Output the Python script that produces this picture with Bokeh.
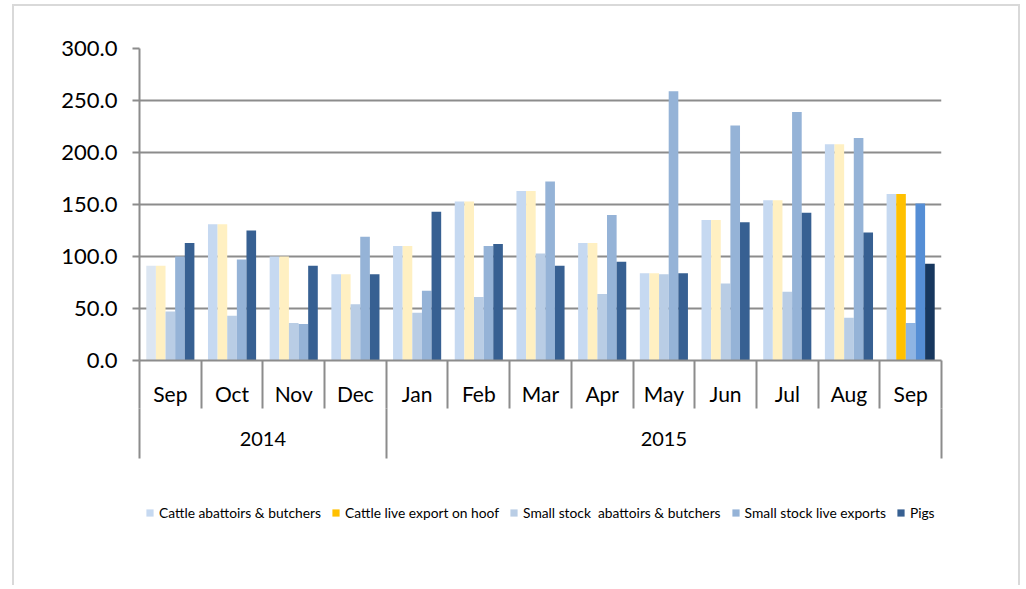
from bokeh.plotting import figure
from bokeh.layouts import column
from bokeh.models import (Range1d, LinearAxis, FixedTicker, NumeralTickFormatter,
                          ColumnDataSource, Legend, LegendItem)
from bokeh.transform import dodge
from bokeh.embed import file_html
from bokeh.resources import INLINE

# ---------------- data ----------------
years = ["2014", "2014", "2014", "2014", "2015", "2015", "2015", "2015", "2015",
         "2015", "2015", "2015", "2015"]
months = ["Sep", "Oct", "Nov", "Dec", "Jan", "Feb", "Mar", "Apr", "May", "Jun",
          "Jul", "Aug", "Sep"]

series_names = ["Cattle abattoirs & butchers", "Cattle live export on hoof",
                "Small stock  abattoirs & butchers", "Small stock live exports", "Pigs"]

cattle_abattoirs = [91, 131, 100, 83, 110, 153, 163, 113, 84, 135, 154, 208, 160]
cattle_live_export = [91, 131, 100, 83, 110, 153, 163, 113, 84, 135, 154, 208, 160]
small_stock_abattoirs = [47, 43, 36, 54, 46, 61, 103, 64, 83, 74, 66, 41, 36]
small_stock_live = [100, 97, 35, 119, 67, 110, 172, 140, 259, 226, 239, 214, 151]
pigs = [113, 125, 91, 83, 143, 112, 91, 95, 84, 133, 142, 123, 93]

y_ticks = [0, 50, 100, 150, 200, 250, 300]

# ---------------- styles ----------------
FONT = "Lato"
GRID = "#8c8c8c"
BORDER = "#d9d9d9"
n = len(months)
col_cattle = ["#dce6f2"] + ["#c6d9f1"] * (n - 1)
col_export = ["#fff0c2"] * (n - 1) + ["#ffc000"]
col_small_ab = ["#b9cde5"] * (n - 1) + ["#8eb4e3"]
col_small_live = ["#95b3d7"] * (n - 1) + ["#558ed5"]
col_pigs = ["#376092"] * (n - 1) + ["#17375e"]

# category slots: one unit per month, label in the middle of each slot
pos = [i + 0.5 for i in range(n)]

source = ColumnDataSource(dict(
    pos=pos, year=years, month=months,
    s0=cattle_abattoirs, s1=cattle_live_export, s2=small_stock_abattoirs,
    s3=small_stock_live, s4=pigs,
    c0=col_cattle, c1=col_export, c2=col_small_ab, c3=col_small_live, c4=col_pigs,
))

W = 1024
H_MAIN, H_LEG = 470, 115
bg = f"linear-gradient({BORDER},{BORDER})"

p = figure(width=W, height=H_MAIN,
           x_range=Range1d(0, n), y_range=Range1d(0, 300),
           output_backend="svg", toolbar_location=None, x_axis_location=None,
           min_border_left=139, min_border_right=W - 941, min_border_top=48,
           min_border_bottom=H_MAIN - 360)
p.outline_line_color = None
p.background_fill_color = "white"
p.border_fill_alpha = 0
p.styles = {
    "background": (f"{bg} 12px 4px / 2px 700px no-repeat, "
                   f"{bg} 12px 4px / 1008px 2px no-repeat, "
                   f"{bg} 1018px 4px / 2px 700px no-repeat, white"),
}
for g in p.xgrid:
    g.grid_line_color = None

# y axis
yax = p.yaxis[0]
yax.ticker = FixedTicker(ticks=y_ticks, minor_ticks=[])
yax.formatter = NumeralTickFormatter(format="0.0")
yax.major_tick_out = 7
yax.major_tick_in = 0
yax.minor_tick_out = 0
yax.minor_tick_in = 0
yax.major_tick_line_color = GRID
yax.major_tick_line_width = 2
yax.axis_line_color = GRID
yax.axis_line_width = 2
yax.major_label_standoff = 15
yax.major_label_text_font = FONT
yax.major_label_text_font_size = "22px"
yax.major_label_text_color = "black"

p.ygrid.ticker = FixedTicker(ticks=y_ticks, minor_ticks=[])
p.ygrid.grid_line_color = GRID
p.ygrid.grid_line_width = 2

# month axis (labels at slot centres, separators as minor ticks)
ax1 = LinearAxis(ticker=FixedTicker(ticks=pos, minor_ticks=list(range(n + 1))),
                 major_label_overrides={t: m for t, m in zip(pos, months)},
                 major_tick_out=0, major_tick_in=0,
                 minor_tick_out=48, minor_tick_in=0,
                 minor_tick_line_color=GRID, minor_tick_line_width=2,
                 axis_line_color=GRID, axis_line_width=2,
                 major_label_standoff=-28, major_label_text_font=FONT,
                 major_label_text_font_size="21px", major_label_text_color="black")
p.add_layout(ax1, "below")

# year axis
bounds = [0] + [i for i in range(1, n) if years[i] != years[i - 1]] + [n]
year_ticks = [(a + b) / 2 for a, b in zip(bounds[:-1], bounds[1:])]
year_labels = [years[a] for a in bounds[:-1]]
ax2 = LinearAxis(ticker=FixedTicker(ticks=year_ticks, minor_ticks=bounds),
                 major_label_overrides={t: y for t, y in zip(year_ticks, year_labels)},
                 major_tick_out=0, major_tick_in=0,
                 minor_tick_out=50, minor_tick_in=0,
                 minor_tick_line_color=GRID, minor_tick_line_width=2,
                 axis_line_color=None,
                 major_label_standoff=-27, major_label_text_font=FONT,
                 major_label_text_font_size="20px", major_label_text_color="black")
p.add_layout(ax2, "below")

# bars
bw = 0.156
offsets = [-2 * bw, -bw, 0, bw, 2 * bw]
for k, off in enumerate(offsets):
    p.vbar(x=dodge("pos", off), top=f"s{k}", width=bw,
           source=source, fill_color=f"c{k}", line_color=None)

# legend strip below the chart (same series, legend only)
lf = figure(width=W, height=H_LEG, x_range=Range1d(0, 1), y_range=Range1d(0, 1),
            output_backend="svg", toolbar_location=None,
            x_axis_location=None, y_axis_location=None,
            min_border_left=0, min_border_right=0, min_border_top=0, min_border_bottom=0)
lf.outline_line_color = None
lf.background_fill_alpha = 0
lf.border_fill_alpha = 0
lf.grid.visible = False
lf.styles = {
    "background": (f"{bg} 12px 0px / 2px 700px no-repeat, "
                   f"{bg} 1018px 0px / 2px 700px no-repeat, white"),
}
leg_renderers = []
for k, off in enumerate(offsets):
    r = lf.vbar(x=dodge("pos", off), top=f"s{k}", width=bw,
                source=source, fill_color=f"c{k}", line_color=None, visible=False)
    leg_renderers.append(r)

legend_index = [1, n - 1, 1, 1, 1]
items = [LegendItem(label=name, renderers=[r], index=i)
         for name, r, i in zip(series_names, leg_renderers, legend_index)]
legend = Legend(items=items, orientation="horizontal", location=(6, 64),
                glyph_width=9, glyph_height=9, label_standoff=5, spacing=10,
                padding=0, margin=0, border_line_color=None,
                background_fill_alpha=0, inactive_fill_alpha=0,
                label_text_font=FONT, label_text_font_size="13.8px",
                label_text_color="black")
lf.add_layout(legend, "center")

layout = column(p, lf, spacing=0)
open("out.html", "w").write(file_html(layout, INLINE))
